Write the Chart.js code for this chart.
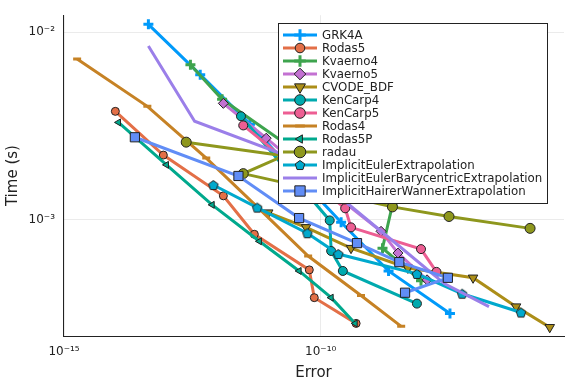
<!DOCTYPE html>
<html>
<head>
<meta charset="utf-8">
<script src="https://cdn.jsdelivr.net/npm/chart.js@4.4.1/dist/chart.umd.min.js"></script>
<style>
  html, body { margin: 0; padding: 0; background: #fff; }
</style>
</head>
<body>
<canvas id="grafico" width="576" height="384"></canvas>
<script>
// dati: errore e tempo (s) per ogni solutore
var nomiSerie = ['GRK4A', 'Rodas5', 'Kvaerno4', 'Kvaerno5', 'CVODE_BDF', 'KenCarp4', 'KenCarp5',
    'Rodas4', 'Rodas5P', 'radau', 'ImplicitEulerExtrapolation',
    'ImplicitEulerBarycentricExtrapolation', 'ImplicitHairerWannerExtrapolation'];

var errGRK4A = [4.4e-14, 4.5e-13, 4.2e-12, 3.2e-11, 2.5e-10, 2.1e-9, 3.3e-8];
var tempoGRK4A = [1.10e-2, 5.93e-3, 3.23e-3, 1.76e-3, 9.68e-4, 5.33e-4, 3.16e-4];

var errRodas5 = [1.0e-14, 8.6e-14, 1.27e-12, 5.1e-12, 6.0e-11, 7.5e-11, 4.9e-10];
var tempoRodas5 = [3.78e-3, 2.21e-3, 1.34e-3, 8.36e-4, 5.40e-4, 3.84e-4, 2.80e-4];

var errKvaerno4 = [2.9e-13, 1.2e-12, 4.0e-11, 2.5e-9, 1.6e-9, 9.0e-9];
var tempoKvaerno4 = [6.70e-3, 4.38e-3, 2.24e-3, 1.20e-3, 7.05e-4, 4.72e-4];

var errKvaerno5 = [1.27e-12, 8.7e-12, 9.8e-11, 1.5e-9, 3.2e-9, 1.18e-8];
var tempoKvaerno5 = [4.17e-3, 2.72e-3, 1.56e-3, 8.67e-4, 6.64e-4, 4.78e-4];

var errCVODE = [9.5e-12, 5.2e-11, 3.9e-10, 5.0e-9, 9.3e-8, 6.4e-7, 2.9e-6];
var tempoCVODE = [1.09e-3, 9.10e-4, 7.05e-4, 5.53e-4, 4.90e-4, 3.44e-4, 2.67e-4];

var errKenCarp4 = [2.8e-12, 1.5e-10, 1.6e-10, 2.7e-10, 7.5e-9];
var tempoKenCarp4 = [3.56e-3, 9.91e-4, 6.81e-4, 5.33e-4, 3.57e-4];

var errKenCarp5 = [3.1e-12, 3.0e-10, 3.9e-10, 9.0e-9, 1.8e-8];
var tempoKenCarp5 = [3.18e-3, 1.15e-3, 9.10e-4, 6.97e-4, 5.27e-4];

var errRodas4 = [1.8e-15, 4.2e-14, 5.9e-13, 5.8e-12, 5.7e-11, 6.1e-10, 3.7e-9];
var tempoRodas4 = [7.19e-3, 4.02e-3, 2.13e-3, 1.17e-3, 6.40e-4, 3.94e-4, 2.70e-4];

var errRodas5P = [1.15e-14, 9.9e-14, 7.7e-13, 6.4e-12, 3.8e-11, 1.6e-10, 4.7e-10];
var tempoRodas5P = [3.30e-3, 1.96e-3, 1.20e-3, 7.67e-4, 5.33e-4, 3.84e-4, 2.80e-4];

var errRadau = [2.4e-13, 1.9e-11, 3.1e-12, 2.5e-9, 3.16e-8, 1.2e-6];
var tempoRadau = [2.59e-3, 2.19e-3, 1.76e-3, 1.17e-3, 1.04e-3, 8.99e-4];

var errIEE = [8.1e-13, 5.8e-12, 5.5e-11, 2.2e-10, 7.5e-9, 5.7e-8, 8.0e-7];
var tempoIEE = [1.53e-3, 1.16e-3, 8.47e-4, 6.56e-4, 5.14e-4, 4.03e-4, 3.20e-4];

var errIEBE = [4.4e-14, 3.5e-13, 2.0e-11, 3.0e-10, 4.4e-9, 2.6e-8, 1.9e-7];
var tempoIEBE = [8.43e-3, 3.35e-3, 2.21e-3, 1.25e-3, 6.81e-4, 4.55e-4, 3.44e-4];

var errIHWE = [2.4e-14, 2.5e-12, 3.8e-11, 5.1e-10, 3.4e-9, 3.0e-8, 4.4e-9];
var tempoIHWE = [2.75e-3, 1.71e-3, 1.02e-3, 7.50e-4, 5.94e-4, 4.90e-4, 4.08e-4];

var tickErrore = [1e-15, 1e-10];
var etichetteErrore = ['10\u207B\u00B9\u2075', '10\u207B\u00B9\u2070'];
var tickTempo = [1e-3, 1e-2];
var etichetteTempo = ['10\u207B\u00B3', '10\u207B\u00B2'];

// pentagono per ImplicitEulerExtrapolation (Chart.js non lo ha)
function creaPentagono(colore, r) {
    var c = document.createElement('canvas');
    var s = Math.ceil(2 * r + 4);
    c.width = s;
    c.height = s;
    var g = c.getContext('2d');
    g.beginPath();
    for (var k = 0; k < 5; k++) {
        var a = -Math.PI / 2 + k * 2 * Math.PI / 5;
        var px = s / 2 + r * Math.cos(a);
        var py = s / 2 + r * Math.sin(a) + 0.5;
        if (k) { g.lineTo(px, py); } else { g.moveTo(px, py); }
    }
    g.closePath();
    g.fillStyle = colore;
    g.fill();
    g.strokeStyle = '#222';
    g.lineWidth = 1;
    g.stroke();
    return c;
}

var stili = [
    { colore: '#009AFA', forma: 'cross', raggio: 5, rot: 0, bordo: '#009AFA', lw: 3 },
    { colore: '#E36F47', forma: 'circle', raggio: 4, rot: 0, bordo: '#222', lw: 1 },
    { colore: '#3EA44E', forma: 'cross', raggio: 5, rot: 0, bordo: '#3EA44E', lw: 3 },
    { colore: '#C371D2', forma: 'rectRot', raggio: 5, rot: 0, bordo: '#222', lw: 1 },
    { colore: '#AC8E18', forma: 'triangle', raggio: 5.5, rot: 180, bordo: '#222', lw: 1 },
    { colore: '#00AAAE', forma: 'circle', raggio: 4.5, rot: 0, bordo: '#222', lw: 1 },
    { colore: '#ED5E93', forma: 'circle', raggio: 4.5, rot: 0, bordo: '#222', lw: 1 },
    { colore: '#C68225', forma: 'line', raggio: 4, rot: 0, bordo: '#C68225', lw: 3 },
    { colore: '#00A98D', forma: 'triangle', raggio: 4, rot: -90, bordo: '#222', lw: 1 },
    { colore: '#8E971D', forma: 'circle', raggio: 5, rot: 0, bordo: '#222', lw: 1 },
    { colore: '#00A9CD', forma: null, raggio: 5, rot: 0, bordo: '#222', lw: 1 },
    { colore: '#9B7FE9', forma: 'circle', raggio: 0, rot: 0, bordo: '#9B7FE9', lw: 0 },
    { colore: '#618DF6', forma: 'rect', raggio: 6.5, rot: 0, bordo: '#222', lw: 1 }
];
stili[10].forma = creaPentagono(stili[10].colore, 5);

var errori = [errGRK4A, errRodas5, errKvaerno4, errKvaerno5, errCVODE, errKenCarp4, errKenCarp5,
    errRodas4, errRodas5P, errRadau, errIEE, errIEBE, errIHWE];
var tempi = [tempoGRK4A, tempoRodas5, tempoKvaerno4, tempoKvaerno5, tempoCVODE, tempoKenCarp4, tempoKenCarp5,
    tempoRodas4, tempoRodas5P, tempoRadau, tempoIEE, tempoIEBE, tempoIHWE];

var datasets = [];
for (var i = 0; i < nomiSerie.length; i++) {
    var st = stili[i];
    var punti = errori[i].map(function(e, k) { return { x: e, y: tempi[i][k] }; });
    datasets.push({
        label: nomiSerie[i],
        data: punti,
        showLine: true,
        borderColor: st.colore,
        backgroundColor: st.colore,
        borderWidth: 3,
        pointStyle: st.forma,
        pointRadius: st.raggio,
        pointRotation: st.rot,
        pointBackgroundColor: st.colore,
        pointBorderColor: st.bordo,
        pointBorderWidth: st.lw,
        order: 20 - i   // l'ultima serie sopra, come nell'originale
    });
}

// legenda disegnata a mano dentro l'area del grafico, in alto a destra
var legendaInterna = {
    id: 'legendaInterna',
    afterDatasetsDraw: function(chart) {
        var c = chart.ctx;
        var x0 = 278.5, y0 = 23.5, w = 269, h = 180;
        c.save();
        c.fillStyle = '#fff';
        c.fillRect(x0, y0, w, h);
        c.strokeStyle = '#222';
        c.lineWidth = 1;
        c.strokeRect(x0, y0, w, h);
        c.font = '11.8px "DejaVu Sans"';
        c.textBaseline = 'middle';
        for (var i = 0; i < nomiSerie.length; i++) {
            var st = stili[i];
            var y = 35 + i * 13;
            c.strokeStyle = st.colore;
            c.lineWidth = 3;
            c.beginPath();
            c.moveTo(283, y);
            c.lineTo(317, y);
            c.stroke();
            if (st.raggio > 0) {
                if (st.forma instanceof HTMLCanvasElement) {
                    c.drawImage(st.forma, 300 - st.forma.width / 2, y - st.forma.height / 2);
                } else {
                    c.fillStyle = st.colore;
                    c.strokeStyle = st.bordo;
                    c.lineWidth = st.lw;
                    Chart.helpers.drawPoint(c, { pointStyle: st.forma, rotation: st.rot, radius: st.raggio + 0.8, borderWidth: st.lw }, 300, y);
                }
            }
            c.fillStyle = '#222';
            c.fillText(nomiSerie[i], 322, y + 0.5);
        }
        c.restore();
    }
};

function etichettaTick(valori, etichette) {
    return function(v) {
        var k = valori.indexOf(v);
        return k >= 0 ? etichette[k] : '';
    };
}

var ctx = document.getElementById('grafico').getContext('2d');
var grafico = new Chart(ctx, {
    type: 'scatter',
    data: { datasets: datasets },
    options: {
        responsive: false,
        animation: false,
        devicePixelRatio: 1,
        layout: { padding: { top: 12, right: 12, left: 0, bottom: 0 } },
        plugins: {
            legend: { display: false },
            tooltip: { enabled: false }
        },
        scales: {
            x: {
                type: 'logarithmic',
                min: Math.pow(10, -15.02),
                max: Math.pow(10, -5.26),
                afterBuildTicks: function(s) { s.ticks = tickErrore.map(function(v) { return { value: v }; }); },
                afterFit: function(s) { s.height = 48; },
                grid: { color: 'rgba(0,0,0,0.08)', drawTicks: false },
                border: { color: '#222', width: 1 },
                ticks: {
                    autoSkip: false, maxRotation: 0, padding: 9, color: '#222',
                    font: { family: 'DejaVu Sans', size: 12 },
                    callback: etichettaTick(tickErrore, etichetteErrore)
                },
                title: {
                    display: true, text: 'Error', color: '#222', padding: { top: 2, bottom: 2 },
                    font: { family: 'DejaVu Sans', size: 15 }
                }
            },
            y: {
                type: 'logarithmic',
                min: Math.pow(10, -3.62),
                max: Math.pow(10, -1.91),
                afterBuildTicks: function(s) { s.ticks = tickTempo.map(function(v) { return { value: v }; }); },
                afterFit: function(s) { s.width = 63; },
                grid: { color: 'rgba(0,0,0,0.08)', drawTicks: false },
                border: { color: '#222', width: 1 },
                ticks: {
                    autoSkip: false, padding: 8, color: '#222',
                    font: { family: 'DejaVu Sans', size: 12 },
                    callback: etichettaTick(tickTempo, etichetteTempo)
                },
                title: {
                    display: true, text: 'Time (s)', color: '#222', padding: { top: 4, bottom: 0 },
                    font: { family: 'DejaVu Sans', size: 15 }
                }
            }
        }
    },
    plugins: [legendaInterna]
});
</script>
</body>
</html>
